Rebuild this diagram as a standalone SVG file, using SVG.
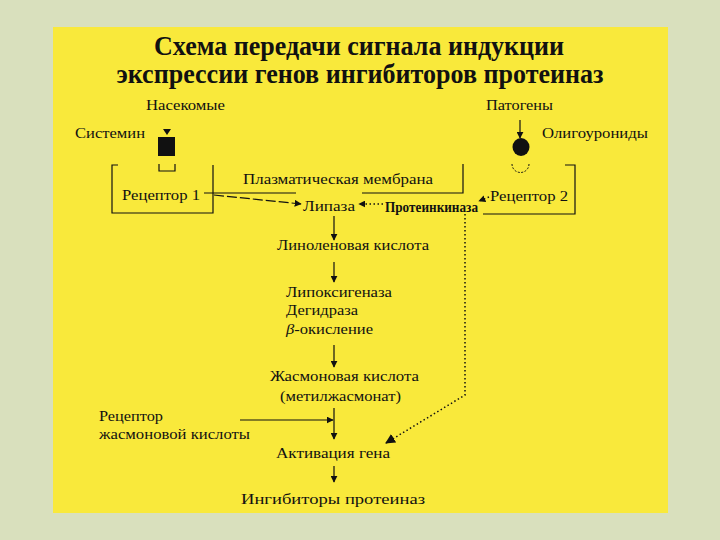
<svg xmlns="http://www.w3.org/2000/svg" width="720" height="540" viewBox="0 0 720 540">
<defs>
<style>
.t{font-family:"Liberation Serif","Times New Roman",serif;fill:#111;font-size:15px}
.title{font-family:"Liberation Serif","Times New Roman",serif;font-weight:bold;font-size:27px;fill:#111;text-anchor:middle}
.ln{stroke:#111;stroke-width:1.2;fill:none}
.dot{stroke:#111;stroke-width:1.5;fill:none;stroke-dasharray:1.5 2.5}
</style>
<marker id="ah" viewBox="0 0 10 10" refX="9" refY="5" markerWidth="7" markerHeight="7" markerUnits="userSpaceOnUse" orient="auto">
<path d="M0,0 L10,5 L0,10 z" fill="#111"/>
</marker>
<marker id="ahb" viewBox="0 0 10 10" refX="9" refY="5" markerWidth="10" markerHeight="10" markerUnits="userSpaceOnUse" orient="auto">
<path d="M0,0 L10,5 L0,10 z" fill="#111"/>
</marker>
</defs>
<rect x="0" y="0" width="720" height="540" fill="#d9e0bd"/>
<rect x="53" y="27" width="615" height="486" fill="#f9e93b"/>

<g id="title">
<text class="title" x="359" y="55" textLength="410" lengthAdjust="spacingAndGlyphs">Схема передачи сигнала индукции</text>
<text class="title" x="360" y="83" textLength="487" lengthAdjust="spacingAndGlyphs">экспрессии генов ингибиторов протеиназ</text>
</g>

<g id="insects">
<text class="t" x="146" y="110" textLength="79" lengthAdjust="spacingAndGlyphs">Насекомые</text>
</g>
<g id="systemin">
<text class="t" x="75" y="138" textLength="70" lengthAdjust="spacingAndGlyphs">Системин</text>
<polygon points="163,129 171,129 167,135" fill="#111"/>
<rect x="158" y="137" width="17" height="19" fill="#111"/>
<path class="ln" d="M159,164 V171 H175 V164"/>
</g>
<g id="receptor1">
<path class="ln" d="M118,165 H112 V213 H213 V165"/>
<text class="t" x="122" y="200" textLength="78" lengthAdjust="spacingAndGlyphs">Рецептор 1</text>
</g>
<g id="membrane">
<text class="t" x="243" y="184" textLength="190" lengthAdjust="spacingAndGlyphs">Плазматическая мембрана</text>
<path class="ln" d="M204,193 H296"/>
<path class="ln" d="M463,164 V193 H362"/>
</g>
<g id="pathogens">
<text class="t" x="486" y="110" textLength="67" lengthAdjust="spacingAndGlyphs">Патогены</text>
</g>
<g id="oligouronides">
<text class="t" x="542" y="138" textLength="106" lengthAdjust="spacingAndGlyphs">Олигоурониды</text>
<ellipse cx="521" cy="147" rx="8.5" ry="9" fill="#111"/>
<path d="M512,164 A8.5 8.5 0 0 0 529,164" stroke="#111" stroke-width="1" fill="none" stroke-dasharray="2 1.5"/>
</g>
<g id="receptor2">
<path class="ln" d="M565,165 H575 V214 H483"/>
<text class="t" x="490" y="201" textLength="78" lengthAdjust="spacingAndGlyphs">Рецептор 2</text>
</g>
<g id="lipase">
<text class="t" x="303" y="211" textLength="52" lengthAdjust="spacingAndGlyphs">Липаза</text>
</g>
<g id="proteinkinase">
<text class="t" x="385" y="212" font-size="12" font-weight="bold" textLength="93" lengthAdjust="spacingAndGlyphs">Протеинкиназа</text>
</g>
<g id="linolenic">
<text class="t" x="277" y="250" textLength="152" lengthAdjust="spacingAndGlyphs">Линоленовая кислота</text>
</g>
<g id="enzymes">
<text class="t" x="286" y="297" textLength="106" lengthAdjust="spacingAndGlyphs">Липоксигеназа</text>
<text class="t" x="286" y="315" textLength="72" lengthAdjust="spacingAndGlyphs">Дегидраза</text>
<text class="t" x="286" y="334" textLength="87" lengthAdjust="spacingAndGlyphs"><tspan font-style="italic">β</tspan>-окисление</text>
</g>
<g id="jasmonic">
<text class="t" x="270" y="381" textLength="149" lengthAdjust="spacingAndGlyphs">Жасмоновая кислота</text>
<text class="t" x="280" y="401" font-size="13" textLength="121" lengthAdjust="spacingAndGlyphs">(метилжасмонат)</text>
</g>
<g id="ja-receptor">
<text class="t" x="99" y="421" textLength="64" lengthAdjust="spacingAndGlyphs">Рецептор</text>
<text class="t" x="99" y="439" textLength="151" lengthAdjust="spacingAndGlyphs">жасмоновой кислоты</text>
</g>
<g id="activation">
<text class="t" x="276" y="458" textLength="114" lengthAdjust="spacingAndGlyphs">Активация гена</text>
</g>
<g id="inhibitors">
<text class="t" x="241" y="504" font-size="16" textLength="184" lengthAdjust="spacingAndGlyphs">Ингибиторы протеиназ</text>
</g>

<g id="connectors">
<path class="ln" d="M520,120 V138" marker-end="url(#ah)"/>
<path class="ln" d="M214,195 L301,204" stroke-dasharray="10 3" marker-end="url(#ah)"/>
<path class="dot" d="M383,204 H359" marker-end="url(#ah)"/>
<path class="dot" d="M489,197 L479,201" marker-end="url(#ah)"/>
<path class="ln" d="M334,216 V240" marker-end="url(#ah)"/>
<path class="ln" d="M334,262 V282" marker-end="url(#ah)"/>
<path class="ln" d="M334,345 V367" marker-end="url(#ah)"/>
<path class="ln" d="M334,408 V439" marker-end="url(#ah)"/>
<path class="ln" d="M240,420 H333" marker-end="url(#ah)"/>
<path class="ln" d="M334,466 V482" marker-end="url(#ah)"/>
<path class="dot" d="M465,214 V395 L386,443" marker-end="url(#ahb)"/>
</g>
</svg>
